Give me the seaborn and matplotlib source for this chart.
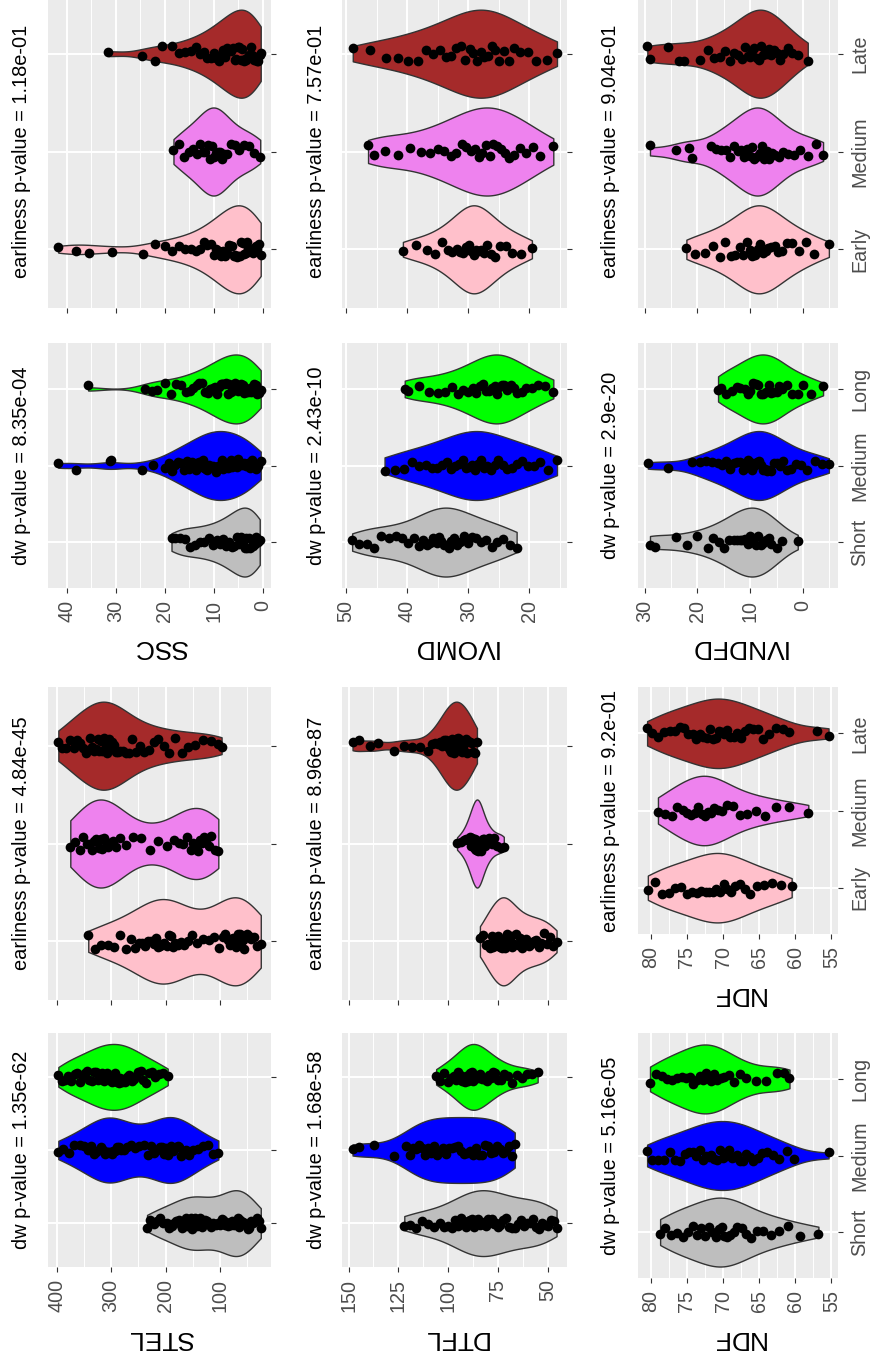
import numpy as np
import pandas as pd
import matplotlib
matplotlib.use("Agg")
import matplotlib.pyplot as plt
import seaborn as sns

# ---------------- data ----------------
dw_levels = ["Short", "Medium", "Long"]
earl_levels = ["Early", "Medium", "Late"]
dw_colors = ["#BEBEBE", "blue", "#00FF00"]
earl_colors = ["pink", "violet", "brown"]

stel_dw_short = [234, 228, 222, 216, 210, 204, 198, 193, 188, 184, 180, 176, 172, 169, 166, 163, 160, 157, 154, 151,
                 148, 145, 142, 139, 136, 133, 130, 127, 124, 120, 116, 112, 108, 104, 100, 97, 94, 91, 88, 85, 82, 79,
                 77, 75, 73, 71, 69, 67, 65, 63, 61, 59, 57, 55, 52, 49, 46, 43, 40, 36, 32, 28, 25]
stel_dw_medium = [397, 388, 378, 368, 358, 350, 343, 337, 332, 327, 323, 319, 315, 311, 308, 305, 302, 299, 296, 293,
                  290, 286, 282, 277, 271, 264, 256, 248, 240, 233, 227, 221, 216, 211, 207, 203, 199, 196, 193, 190,
                  187, 184, 181, 178, 175, 171, 167, 162, 156, 149, 141, 132, 122, 112, 103]
stel_dw_long = [397, 391, 385, 379, 373, 367, 362, 357, 352, 348, 344, 340, 336, 332, 328, 325, 322, 319, 316, 313,
                310, 307, 304, 301, 298, 295, 292, 289, 286, 283, 280, 277, 274, 271, 268, 265, 262, 258, 254, 250,
                246, 241, 236, 231, 225, 219, 212, 204, 196]
stel_earl_early = [342, 330, 318, 306, 294, 283, 273, 264, 256, 249, 243, 237, 232, 227, 222, 218, 214, 210, 206, 202,
                   198, 194, 190, 186, 182, 177, 172, 166, 159, 151, 142, 132, 121, 111, 102, 95, 90, 86, 82, 79, 76,
                   73, 70, 67, 64, 61, 58, 55, 51, 47, 43, 38, 32, 25]
stel_earl_medium = [375, 366, 358, 351, 345, 340, 336, 332, 328, 325, 322, 319, 316, 313, 310, 306, 302, 297, 291, 283,
                    273, 260, 245, 229, 213, 198, 185, 175, 167, 160, 154, 149, 145, 141, 137, 133, 129, 125, 121, 116,
                    110, 103]
stel_earl_late = [397, 390, 383, 376, 369, 363, 357, 352, 347, 343, 339, 335, 331, 328, 325, 322, 319, 316, 313, 310,
                  307, 304, 301, 298, 295, 291, 287, 283, 278, 273, 267, 261, 254, 247, 239, 231, 222, 213, 203, 193,
                  182, 170, 158, 145, 131, 117, 103, 97]

ssc_dw_short = [18.6, 17.8, 16.8, 15.8, 14.8, 13.8, 12.8, 11.9, 11, 10.2, 9.4, 8.7, 8, 7.4, 6.8, 6.3, 5.8, 5.3, 4.9,
                4.5, 4.1, 3.7, 3.4, 3.1, 2.8, 2.5, 2.2, 1.9, 1.6, 1.3, 1, 0.6]
ssc_dw_medium = [41.7, 38, 31.2, 31, 24.7, 22.4, 20, 19.2, 18.5, 17.8, 17.2, 16.6, 16, 15.5, 15, 14.5, 14.1, 13.7,
                 13.3, 12.9, 12.5, 12.2, 11.9, 11.6, 11.3, 11, 10.7, 10.4, 10.1, 9.8, 9.5, 9.2, 8.9, 8.6, 8.3, 8, 7.7,
                 7.4, 7.1, 6.8, 6.5, 6.2, 5.9, 5.6, 5.3, 5, 4.6, 4.2, 3.8, 3.4, 3, 2.6, 2.2, 1.8, 1.4, 1, 0.4]
ssc_dw_long = [35.6, 24, 22.5, 21.5, 20, 18.8, 17.6, 16.6, 15.7, 14.9, 14.2, 13.5, 12.9, 12.3, 11.7, 11.2, 10.7, 10.2,
               9.8, 9.4, 9, 8.6, 8.3, 8, 7.7, 7.4, 7.1, 6.8, 6.5, 6.2, 5.9, 5.6, 5.3, 5, 4.7, 4.4, 4.1, 3.8, 3.5, 3.2,
               2.9, 2.6, 2.3, 2, 1.7, 1.4, 1.1, 0.8, 0.4]
ssc_earl_early = [41.7, 38, 35.5, 30.7, 24.5, 22, 20, 18.5, 17, 15.8, 14.7, 13.7, 12.8, 12, 11.3, 10.6, 10, 9.5, 9,
                  8.5, 8.1, 7.7, 7.3, 6.9, 6.5, 6.2, 5.9, 5.6, 5.3, 5, 4.7, 4.4, 4.1, 3.8, 3.5, 3.2, 2.9, 2.6, 2.3, 2,
                  1.7, 1.4, 1.1, 0.8, 0.4]
ssc_earl_medium = [18.2, 17, 16, 15, 14.2, 13.5, 12.8, 12.2, 11.7, 11.2, 10.8, 10.4, 10, 9.6, 9.2, 8.8, 8.3, 7.8,
                   7.2, 6.5, 5.7, 4.8, 3.8, 2.8, 1.7, 0.5]
ssc_earl_late = [31.5, 24.7, 22, 20.5, 18.5, 17, 15.8, 14.7, 13.7, 12.8, 12, 11.3, 10.6, 10, 9.5, 9, 8.5, 8, 7.6, 7.2,
                 6.8, 6.4, 6, 5.7, 5.4, 5.1, 4.8, 4.5, 4.2, 3.9, 3.6, 3.3, 3, 2.7, 2.4, 2.1, 1.8, 1.5, 1.2, 0.9, 0.6,
                 0.4]

dtfl_dw_short = [122, 119, 116, 113, 110, 107, 104, 102, 100, 98, 96.5, 95, 93.5, 92, 91, 90, 89, 88, 87, 86, 85, 84,
                 83, 82, 81, 80, 79, 78, 77, 76, 75, 74, 72.5, 71, 69.5, 68, 66.5, 65, 63.5, 62, 60.5, 59, 57.5, 56,
                 54.5, 53, 51.5, 50, 48.5, 47, 45.5]
dtfl_dw_medium = [148, 145, 137, 127, 121, 119, 117.5, 116, 114.5, 113, 111.5, 110, 108.5, 107, 105.5, 104, 102.5, 101,
                  99.5, 98, 96.5, 95, 93.5, 92, 90.5, 89, 87.5, 86, 84.5, 83, 81.5, 80, 78.5, 77, 75.5, 74, 72.5, 71,
                  69.5, 68, 66.5]
dtfl_dw_long = [106, 104, 102, 100, 98.5, 97, 96, 95, 94, 93, 92.2, 91.5, 90.8, 90.1, 89.4, 88.8, 88.2, 87.6, 87, 86.4,
                85.8, 85.2, 84.5, 83.8, 83, 82.2, 81.4, 80.5, 79.5, 78.5, 77.5, 76.3, 75, 73.5, 72, 70, 68, 65.5, 63,
                60.5, 58, 55]
dtfl_earl_early = [84, 82.5, 81, 80, 79, 78, 77.2, 76.4, 75.7, 75, 74.4, 73.8, 73.2, 72.7, 72.2, 71.7, 71.2, 70.6, 70,
                   69.3, 68.6, 67.8, 67, 66, 65, 64, 63, 61.8, 60.6, 59.4, 58.2, 57, 55.8, 54.5, 53.2, 51.8, 50.4, 49,
                   47.5, 45.5]
dtfl_earl_medium = [95.5, 93.5, 92, 91, 90.2, 89.5, 88.9, 88.4, 87.9, 87.5, 87.1, 86.7, 86.4, 86.1, 85.8, 85.5, 85.2,
                    84.9, 84.6, 84.3, 84, 83.6, 83.2, 82.7, 82.2, 81.6, 80.9, 80.1, 79.2, 78.1, 76.8, 75.2, 73.5, 72]
dtfl_earl_late = [148, 145, 139, 135, 127, 122, 118, 114, 110, 108, 106.5, 105, 104, 103, 102.2, 101.5, 100.8, 100.2,
                  99.6, 99, 98.5, 98, 97.5, 97, 96.5, 96, 95.5, 95, 94.5, 94, 93.5, 93, 92.4, 91.8, 91.2, 90.5, 89.8,
                  89, 88.2, 87.4, 86.5, 85.5]

ivomd_dw_short = [49, 47.8, 46.6, 45.4, 44.2, 43, 41.9, 40.8, 39.8, 38.9, 38.1, 37.4, 36.8, 36.2, 35.7, 35.2, 34.8,
                  34.4, 34, 33.6, 33.2, 32.8, 32.3, 31.8, 31.3, 30.7, 30.1, 29.4, 28.7, 27.9, 27.1, 26.2, 25.3, 24.3,
                  23.2, 22.1]
ivomd_dw_medium = [43.7, 42, 40.5, 39.2, 38, 37, 36, 35.1, 34.3, 33.5, 32.8, 32.1, 31.5, 30.9, 30.4, 29.9, 29.4, 28.9,
                   28.4, 27.9, 27.4, 26.9, 26.3, 25.7, 25.1, 24.4, 23.7, 22.9, 22.1, 21.2, 20.3, 19.3, 18.2, 17, 15.5]
ivomd_dw_long = [40.4, 39.8, 38, 36.4, 35, 33.8, 32.7, 31.7, 30.8, 30, 29.3, 28.7, 28.1, 27.6, 27.1, 26.6, 26.1, 25.7,
                 25.3, 24.9, 24.5, 24.1, 23.6, 23.1, 22.6, 22, 21.3, 20.5, 19.6, 18.6, 17.4, 16.1]
ivomd_earl_early = [40.7, 38.5, 36.8, 35.4, 34.3, 33.4, 32.6, 31.9, 31.3, 30.8, 30.3, 29.9, 29.5, 29.1, 28.7, 28.3,
                    27.9, 27.4, 26.9, 26.3, 25.6, 24.8, 23.9, 22.8, 21.4, 19.6]
ivomd_earl_medium = [46.4, 45.5, 43.6, 41.5, 39.5, 37.8, 36.3, 35, 33.9, 32.9, 32, 31.1, 30.3, 29.6, 28.9, 28.3, 27.7,
                     27.1, 26.5, 25.9, 25.3, 24.7, 24, 23.3, 22.5, 21.6, 20.6, 19.5, 18.2, 16.1]
ivomd_earl_late = [48.9, 46, 43.5, 41.5, 39.8, 38.3, 37, 35.8, 34.7, 33.7, 32.8, 32, 31.2, 30.5, 29.8, 29.2, 28.6, 28,
                   27.4, 26.8, 26.2, 25.6, 24.9, 24.2, 23.4, 22.5, 21.5, 20.3, 18.9, 17.2, 15.5]

ndf_dw_short = [78.7, 78, 77.2, 76.4, 75.6, 74.9, 74.2, 73.6, 73, 72.5, 72, 71.5, 71, 70.6, 70.2, 69.8, 69.4, 69,
                68.5, 68, 67.4, 66.8, 66.1, 65.3, 64.4, 63.4, 62.3, 61, 59.4, 56.8]
ndf_dw_medium = [80.5, 79.8, 79, 78.2, 77.4, 76.6, 75.9, 75.3, 74.7, 74.2, 73.7, 73.2, 72.8, 72.4, 72, 71.6, 71.2,
                 70.8, 70.4, 70, 69.6, 69.2, 68.8, 68.4, 68, 67.6, 67.2, 66.8, 66.3, 65.8, 65.2, 64.6, 63.9, 63.1,
                 62.2, 61.2, 60.2, 55.4]
ndf_dw_long = [80.1, 79.3, 78.5, 77.7, 77, 76.3, 75.7, 75.1, 74.6, 74.1, 73.6, 73.2, 72.8, 72.4, 72, 71.6, 71.2, 70.8,
               70.3, 69.8, 69.2, 68.5, 67.7, 66.8, 65.5, 64, 62.5, 61.5, 60.8]
ndf_earl_early = [80.4, 79.4, 78.4, 77.5, 76.6, 75.8, 75, 74.3, 73.6, 73, 72.4, 71.9, 71.4, 70.9, 70.4, 69.9, 69.4,
                  68.9, 68.3, 67.7, 67, 66.2, 65.3, 64.3, 63.2, 62, 60.5]
ndf_earl_medium = [79, 78, 77.1, 76.3, 75.6, 75, 74.4, 73.9, 73.4, 72.9, 72.5, 72.1, 71.7, 71.2, 70.7, 70.1, 69.4,
                   68.6, 67.7, 66.7, 65.5, 64.2, 62.7, 60.8, 58.2]
ndf_earl_late = [80.5, 79.8, 79, 78.2, 77.4, 76.7, 76, 75.4, 74.8, 74.2, 73.7, 73.2, 72.7, 72.2, 71.8, 71.4, 71, 70.6,
                 70.2, 69.8, 69.4, 69, 68.5, 68, 67.5, 67, 66.4, 65.8, 65.1, 64.4, 63.6, 62.7, 61.7, 60.8, 57, 55.4]

ivndfd_dw_short = [29, 28, 24, 22, 20, 18, 17, 16, 15, 14, 13, 12.5, 12, 11.5, 11, 10.5, 10, 9.5, 9, 8.5, 8, 7.5, 7,
                   6.5, 6, 5, 4, 1]
ivndfd_dw_medium = [29.4, 25.6, 21, 19.5, 18.3, 17.2, 16.2, 15.3, 14.5, 13.8, 13.1, 12.5, 11.9, 11.4, 10.9, 10.4, 10,
                    9.6, 9.2, 8.8, 8.4, 8, 7.6, 7.2, 6.8, 6.4, 6, 5.5, 5, 4.4, 3.8, 3.1, 2.3, 1.4, 0.4, -0.8, -2.2,
                    -3.6, -4.9]
ivndfd_dw_long = [16.1, 15.5, 14.5, 13.5, 12.5, 12, 11, 10.5, 10, 9.5, 9, 8.5, 8, 7.5, 7, 6.5, 6, 5.5, 5, 4.5, 4, 3, 2,
                  1, 0, -1.5, -3.8]
ivndfd_earl_early = [22.1, 20.5, 18.5, 17, 15.8, 14.7, 13.7, 12.8, 12, 11.3, 10.7, 10.1, 9.6, 9.1, 8.6, 8.1, 7.6, 7.1,
                     6.6, 6, 5.4, 4.7, 3.9, 3, 2, 0.8, -0.5, -2, -4.9]
ivndfd_earl_medium = [29, 24, 21.7, 21, 17.5, 16.5, 15.5, 14.6, 13.8, 13, 12.3, 11.7, 11.1, 10.6, 10.1, 9.7, 9.3, 8.9,
                      8.5, 8.1, 7.7, 7.3, 6.9, 6.4, 5.9, 5.3, 4.6, 3.8, 2.9, 1.8, 0.5, -1, -2.4, -3.8]
ivndfd_earl_late = [29.5, 29, 25.6, 23.5, 22.5, 19.5, 18, 16.8, 15.7, 14.7, 13.8, 13, 12.3, 11.6, 11, 10.5, 10, 9.6,
                    9.2, 8.8, 8.4, 8, 7.6, 7.2, 6.8, 6.4, 6, 5.5, 5, 4.4, 3.7, 2.9, 2, 1, -0.9]

pvalues = {
    "STEL": ["1.35e-62", "4.84e-45"], "SSC": ["8.35e-04", "1.18e-01"],
    "DTFL": ["1.68e-58", "8.96e-87"], "IVOMD": ["2.43e-10", "7.57e-01"],
    "NDF": ["5.16e-05", "9.2e-01"], "IVNDFD": ["2.9e-20", "9.04e-01"],
}
major_ticks = {
    "STEL": [100, 200, 300, 400], "SSC": [0, 10, 20, 30, 40], "DTFL": [50, 75, 100, 125, 150],
    "IVOMD": [20, 30, 40, 50], "NDF": [55, 60, 65, 70, 75, 80], "IVNDFD": [0, 10, 20, 30],
}

# ---------------- layout (the chart is drawn turned 90 degrees) ----------------
W, H = 873, 1364
lims = {"STEL": (416, 6.2), "SSC": (43.8, -1.7), "DTFL": (153.3, 40.25),
        "IVOMD": (50.66, 13.86), "NDF": (81.76, 54.09), "IVNDFD": (31.27, -6.63)}

sns.set_theme(style="darkgrid", rc={"axes.facecolor": "#EBEBEB", "grid.color": "white"})
plt.rcParams["font.family"] = ["Liberation Sans", "DejaVu Sans"]
np.random.seed(7)


def nrd0(kde):
    # R's default bandwidth (as used by geom_violin)
    x = kde.dataset[0]
    sd = x.std(ddof=1)
    iqr = np.subtract(*np.percentile(x, [75, 25]))
    h = 0.9 * min(sd, iqr / 1.34) * len(x) ** -0.2
    return h / sd


fig = plt.figure(figsize=(W / 100, H / 100), dpi=100)
fig.patch.set_facecolor("white")


def draw(trait, kind, groups, box, show_vals, show_cats, title_x, label_y):
    x0, x1, y0, y1 = box
    ax = fig.add_axes([x0 / W, 1 - y1 / H, (x1 - x0) / W, (y1 - y0) / H])
    levels = dw_levels if kind == "dw" else earl_levels
    colors = dw_colors if kind == "dw" else earl_colors
    df = pd.DataFrame({"group": np.repeat(levels, [len(g) for g in groups]),
                       "value": np.concatenate(groups)})
    sns.violinplot(data=df, x="value", y="group", hue="group", order=levels, hue_order=levels,
                   palette=dict(zip(levels, colors)), legend=False, orient="h", cut=0, inner=None,
                   density_norm="area", width=0.9, linewidth=1.0, linecolor="#333333",
                   saturation=1, bw_method=nrd0, ax=ax)
    sns.stripplot(data=df, x="value", y="group", order=levels, orient="h", color="black",
                  size=7, jitter=0.08, linewidth=0, ax=ax)

    ticks = major_ticks[trait]
    ax.set_xticks(ticks)
    step = ticks[1] - ticks[0]
    ax.set_xticks([t - step / 2 for t in ticks] + [ticks[-1] + step / 2], minor=True)
    ax.set_xlim(*lims[trait])
    ax.set_ylim(-0.6, 2.6)
    ax.set_axisbelow(True)
    ax.grid(which="major", color="white", linewidth=1.4)
    ax.grid(which="minor", axis="x", color="white", linewidth=0.7)
    ax.yaxis.grid(True, color="white", linewidth=1.4)
    for s in ax.spines.values():
        s.set_visible(False)
    ax.set_xlabel("")
    ax.set_ylabel("")

    ax.yaxis.tick_right()
    ax.tick_params(which="minor", length=0)
    ax.tick_params(axis="x", which="major", bottom=True, length=3.6, width=0.8, color="#333333",
                   pad=5, labelsize=14.2, labelcolor="#4D4D4D", labelrotation=90, labelbottom=show_vals)
    ax.tick_params(axis="y", which="major", right=True, left=False, length=3.6, width=0.8,
                   color="#333333", pad=5, labelsize=14.2, labelcolor="#4D4D4D",
                   labelrotation=90, labelright=show_cats, labelleft=False)
    for lbl in ax.get_yticklabels(which="both"):
        lbl.set_va("center")
        lbl.set_ha("left")

    p = pvalues[trait][0 if kind == "dw" else 1]
    fig.text(title_x / W, 1 - (y0 + y1) / 2 / H, f"{kind} p-value = {p}",
             rotation=90, ha="center", va="center", fontsize=14.4, color="black")
    if label_y is not None:
        fig.text((x0 + x1) / 2 / W, 1 - label_y / H, trait, rotation=180, ha="center", va="center",
                 fontsize=19, color="black")


c1, c2, c3 = (48, 271), (342, 567), (638, 838)
draw("STEL", "dw", [stel_dw_short, stel_dw_medium, stel_dw_long], (*c1, 1033, 1267), True, False, 22, 1338)
draw("STEL", "earliness", [stel_earl_early, stel_earl_medium, stel_earl_late], (*c1, 687, 1000), False, False, 22, None)
draw("SSC", "dw", [ssc_dw_short, ssc_dw_medium, ssc_dw_long], (*c1, 343, 588), True, False, 22, 647)
draw("SSC", "earliness", [ssc_earl_early, ssc_earl_medium, ssc_earl_late], (*c1, -5, 308), False, False, 22, None)

draw("DTFL", "dw", [dtfl_dw_short, dtfl_dw_medium, dtfl_dw_long], (*c2, 1033, 1267), True, False, 316, 1338)
draw("DTFL", "earliness", [dtfl_earl_early, dtfl_earl_medium, dtfl_earl_late], (*c2, 687, 1000), False, False, 316, None)
draw("IVOMD", "dw", [ivomd_dw_short, ivomd_dw_medium, ivomd_dw_long], (*c2, 343, 588), True, False, 316, 647)
draw("IVOMD", "earliness", [ivomd_earl_early, ivomd_earl_medium, ivomd_earl_late], (*c2, -5, 308), False, False, 316, None)

draw("NDF", "dw", [ndf_dw_short, ndf_dw_medium, ndf_dw_long], (*c3, 1033, 1278), True, True, 611, 1338)
draw("NDF", "earliness", [ndf_earl_early, ndf_earl_medium, ndf_earl_late], (*c3, 687, 934), True, True, 611, 994)
draw("IVNDFD", "dw", [ivndfd_dw_short, ivndfd_dw_medium, ivndfd_dw_long], (*c3, 343, 588), True, True, 611, 647)
draw("IVNDFD", "earliness", [ivndfd_earl_early, ivndfd_earl_medium, ivndfd_earl_late], (*c3, -5, 308), False, True, 611, None)

fig.savefig("out.png", dpi=100)
